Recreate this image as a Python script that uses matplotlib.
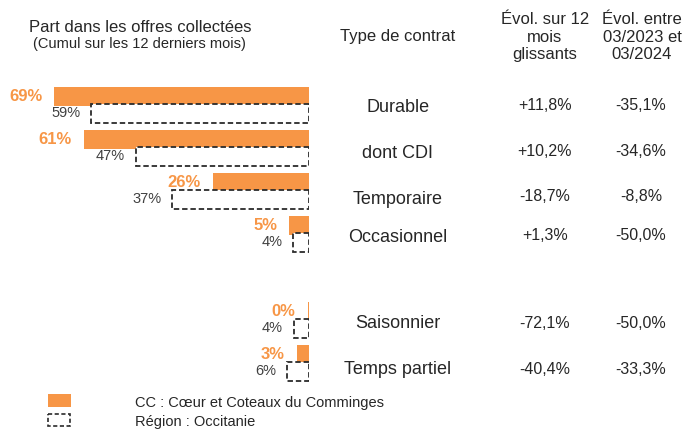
import matplotlib
matplotlib.use("Agg")
import matplotlib.pyplot as plt
from matplotlib.transforms import blended_transform_factory

plt.rcParams['font.family'] = ['Liberation Sans', 'DejaVu Sans']

# ---------------- data ----------------
categories = ["Durable", "dont CDI", "Temporaire", "Occasionnel", "Saisonnier", "Temps partiel"]
row_index = [0, 1, 2, 3, 5, 6]          # row 4 is an empty spacer row
cc_values = [69, 61, 26, 5.4, 0.4, 3.3]          # CC : Cœur et Coteaux du Comminges
region_values = [59, 47, 37, 4.3, 4.2, 6]        # Région : Occitanie
evol_12m = ["+11,8%", "+10,2%", "-18,7%", "+1,3%", "-72,1%", "-40,4%"]
evol_year = ["-35,1%", "-34,6%", "-8,8%", "-50,0%", "-50,0%", "-33,3%"]

legend_labels = ["CC : Cœur et Coteaux du Comminges", "Région : Occitanie"]

# ---------------- layout ----------------
W, H = 684, 437
DPI = 100
ORANGE = "#F79646"
DARK = "#262626"
GRAY = "#404040"

fig = plt.figure(figsize=(W / DPI, H / DPI), dpi=DPI)
fig.patch.set_facecolor("white")

zero_px = 309            # x pixel of the 0 % baseline
px_per_pct = 3.69
row_px = 43.0
first_row_px = 105.0

ax = fig.add_axes([0, 0, zero_px / W, 1])
ax.set_xlim(zero_px / px_per_pct, 0)
ax.set_ylim((H - first_row_px) / row_px, -first_row_px / row_px)
ax.axis("off")

bar_h = 19.5 / row_px
off = 8.5 / row_px

cc_y = [r - off for r in row_index]
rg_y = [r + off for r in row_index]

ax.barh(cc_y, cc_values, height=bar_h, color=ORANGE, zorder=2)
ax.barh(rg_y, region_values, height=bar_h, facecolor="white", edgecolor="#2b2b2b",
        linewidth=1.3, linestyle=(0, (3, 1.6)), zorder=3)

for y, v in zip(cc_y, cc_values):
    ax.annotate(f"{round(v)}%", xy=(v, y), xytext=(-12, 0), textcoords="offset pixels",
                ha="right", va="center", fontsize=12, fontweight="bold", color=ORANGE, zorder=5)
for y, v in zip(rg_y, region_values):
    ax.annotate(f"{round(v)}%", xy=(v, y), xytext=(-11, 0), textcoords="offset pixels",
                ha="right", va="center", fontsize=10.5, color=GRAY, zorder=5)

# table columns (pixel positions)
def fx(px):
    return px / W

def fy(px):
    return 1 - px / H

label_y_px = [107.5, 154, 199, 238, 324, 370]
evol_y_px = [105.5, 151.5, 196.5, 235.5, 323, 369.5]

for cat, ly, e1, e2, ey in zip(categories, label_y_px, evol_12m, evol_year, evol_y_px):
    fig.text(fx(398), fy(ly), cat, ha="center", va="center", fontsize=13, color=DARK)
    fig.text(fx(545), fy(ey), e1, ha="center", va="center", fontsize=11.5, color=DARK)
    fig.text(fx(641), fy(ey), e2, ha="center", va="center", fontsize=11.5, color=DARK)

# headers
fig.text(fx(140), fy(27), "Part dans les offres collectées", ha="center", va="center",
         fontsize=12, color=DARK)
fig.text(fx(139), fy(44), "(Cumul sur les 12 derniers mois)", ha="center", va="center",
         fontsize=10.5, color=DARK)
fig.text(fx(398), fy(37), "Type de contrat", ha="center", va="center", fontsize=12, color=DARK)
fig.text(fx(545), fy(37), "Évol. sur 12\nmois\nglissants", ha="center", va="center",
         fontsize=12, color=DARK, linespacing=1.2)
fig.text(fx(642), fy(37), "Évol. entre\n03/2023 et\n03/2024", ha="center", va="center",
         fontsize=12, color=DARK, linespacing=1.2)

# legend
lax = fig.add_axes([0, 0, 1, 1], zorder=-1)
lax.set_xlim(0, W)
lax.set_ylim(H, 0)
lax.axis("off")
lax.add_patch(plt.Rectangle((48, 394), 23, 13, facecolor=ORANGE, edgecolor="none"))
lax.add_patch(plt.Rectangle((48, 414), 22, 12, facecolor="white", edgecolor="#2b2b2b",
                            linewidth=1.2, linestyle=(0, (2.5, 1.5))))
fig.text(fx(135), fy(403), legend_labels[0], ha="left", va="center", fontsize=10.5, color=DARK)
fig.text(fx(135), fy(422), legend_labels[1], ha="left", va="center", fontsize=10.5, color=DARK)

fig.savefig("out.png", dpi=DPI, facecolor="white")
